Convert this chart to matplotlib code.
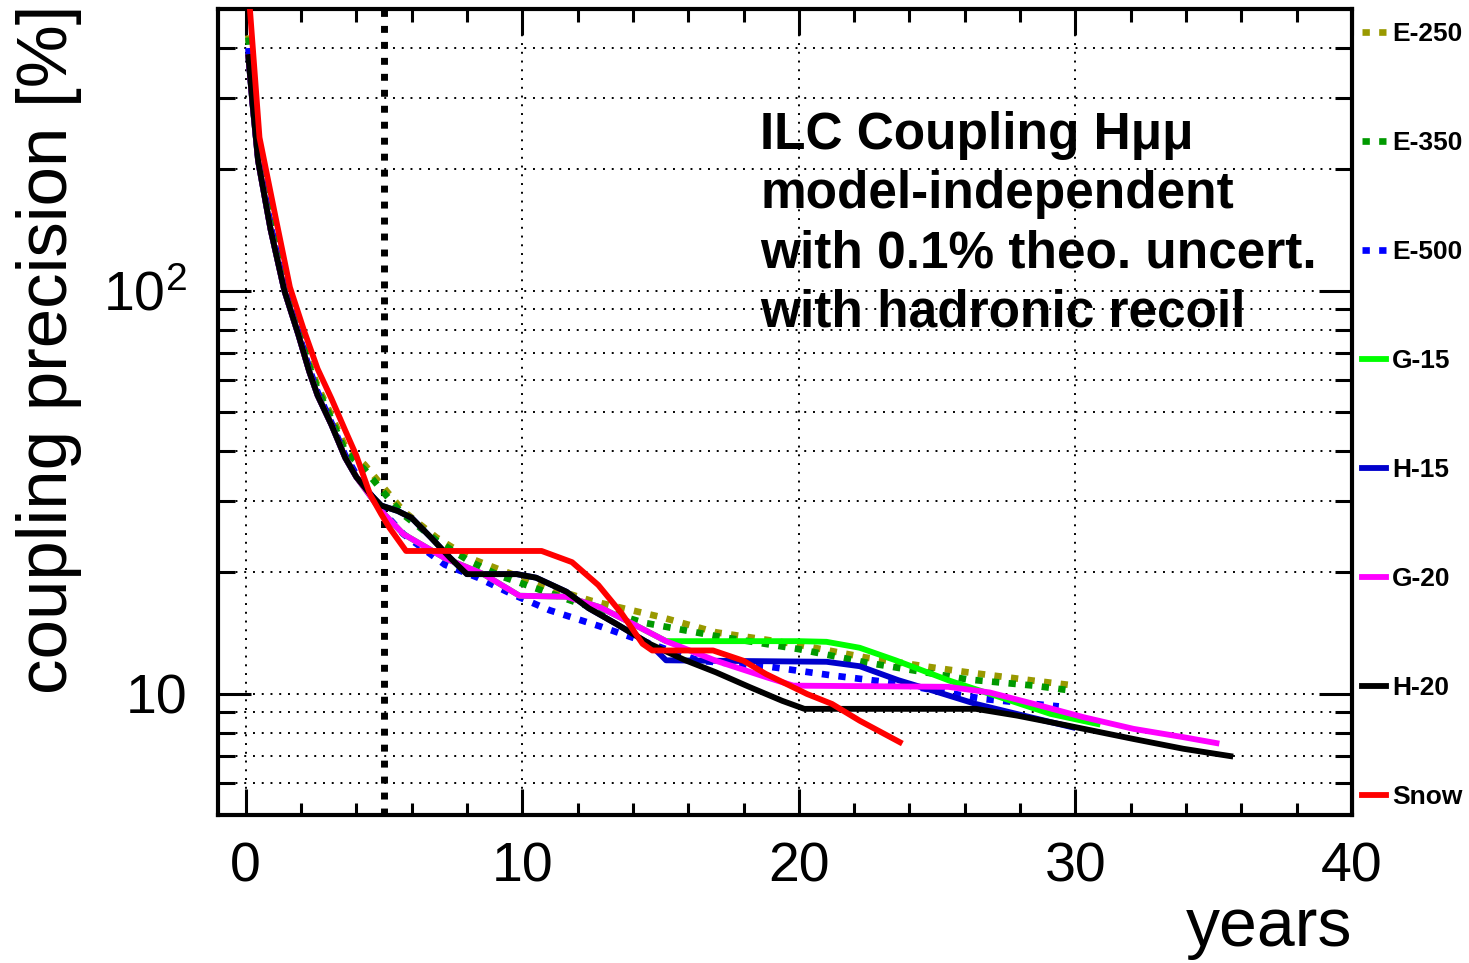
import matplotlib
matplotlib.use("Agg")
import matplotlib.pyplot as plt
from matplotlib.ticker import FixedLocator, NullFormatter, MultipleLocator

plt.rcParams['font.family'] = ['Liberation Sans', 'DejaVu Sans']
plt.rcParams['mathtext.fontset'] = 'custom'
plt.rcParams['mathtext.rm'] = 'Liberation Sans'
plt.rcParams['mathtext.it'] = 'Liberation Sans:italic'

# --- data (years, coupling precision in %) ---
labels = ["E-250", "E-350", "E-500", "G-15", "H-15", "G-20", "H-20", "Snow"]

x_e250 = [0.1, 0.25, 0.45, 0.9, 1.4, 1.9, 2.3, 2.6, 3.1, 3.6, 4.3, 5.0, 5.7, 6.9, 8.1, 9.2,
          11.0, 12.5, 13.8, 15.0, 17.0, 19.8, 22.4, 24.9, 26.1, 28.5, 30.0]
y_e250 = [430, 310, 220, 150, 104, 81, 66, 58, 49, 41, 37, 32.4, 28.4, 24.4, 21.7, 20.3,
          18.3, 17.0, 16.2, 15.5, 14.2, 13.3, 12.3, 11.6, 11.3, 10.77, 10.47]

x_e350 = [0.1, 0.25, 0.45, 0.9, 1.4, 1.9, 2.3, 2.6, 3.1, 3.6, 4.3, 5.0, 5.7, 6.9, 8.1, 9.2,
          12.0, 14.4, 17.0, 20.0, 22.4, 24.9, 26.1, 28.5, 29.9]
y_e350 = [425, 305, 218, 148, 103, 80, 65, 57, 48, 40, 36, 31.5, 27.8, 24.0, 21.3, 19.6,
          16.8, 15.0, 13.9, 12.9, 11.96, 11.2, 10.85, 10.47, 10.17]

x_e500 = [0.1, 0.25, 0.45, 0.9, 1.4, 1.9, 2.3, 2.6, 3.1, 3.6, 4.0, 4.9, 5.7, 7.2, 8.4, 9.6,
          11.0, 12.8, 14.5, 16.4, 18.8, 21.2, 23.6, 25.2, 26.7, 29.4]
y_e500 = [400, 300, 215, 145, 102, 79, 64, 56, 47, 39, 35, 28.6, 24.9, 20.9, 19.4, 17.7,
          16.1, 14.7, 13.4, 12.07, 11.7, 11.1, 10.6, 10.1, 9.7, 9.3]

x_g15 = [0.1, 0.25, 0.45, 0.9, 1.4, 1.9, 2.3, 2.6, 3.1, 3.6, 4.0, 4.9, 5.7, 7.2, 8.6, 9.2,
         9.9, 11.6, 12.8, 14.0, 15.2, 20.0, 21.0, 22.2, 23.5, 25.45, 27.3, 29.1, 30.8]
y_g15 = [380, 290, 210, 142, 100, 78, 63, 55, 46.5, 38.5, 34.5, 28.4, 24.9, 21.7, 19.8, 18.7,
         17.5, 17.4, 16.4, 14.9, 13.5, 13.5, 13.45, 13.0, 12.1, 10.77, 9.79, 8.91, 8.41]

x_h15 = [0.1, 0.25, 0.45, 0.9, 1.4, 1.9, 2.3, 2.6, 3.1, 3.6, 4.0, 4.5, 4.9, 5.5, 6.0, 6.7,
         7.4, 8.0, 9.8, 10.5, 11.6, 12.4, 13.4, 14.6, 15.2, 21.0, 22.2, 23.6, 25.0, 26.4,
         27.9, 29.9]
y_h15 = [380, 290, 210, 142, 100, 78, 63, 55, 46.5, 38.5, 34.5, 31.3, 29.3, 28.4, 27.3, 24.4,
         21.7, 19.8, 19.8, 19.4, 17.9, 16.3, 14.9, 13.3, 12.1, 12.0, 11.7, 10.8, 10.1, 9.43,
         8.9, 8.25]

x_g20 = [0.1, 0.25, 0.45, 0.9, 1.4, 1.9, 2.3, 2.6, 3.1, 3.6, 4.0, 4.9, 5.7, 7.2, 8.6, 9.2,
         9.9, 11.6, 12.8, 14.0, 15.2, 17.0, 18.8, 19.8, 25.4, 26.9, 28.5, 30.3, 32.1, 33.9, 35.1]
y_g20 = [380, 290, 210, 142, 100, 78, 63, 55, 46.5, 38.5, 34.5, 28.4, 24.9, 21.7, 19.8, 18.7,
         17.5, 17.4, 16.4, 14.9, 13.5, 12.07, 11.0, 10.47, 10.4, 10.07, 9.43, 8.74, 8.18, 7.8, 7.54]

x_h20 = [0.1, 0.25, 0.45, 0.9, 1.4, 1.9, 2.3, 2.6, 3.1, 3.6, 4.0, 4.5, 4.9, 5.5, 6.0, 6.7,
         7.4, 8.0, 9.8, 10.5, 11.6, 12.4, 13.4, 14.6, 15.9, 17.0, 18.2, 19.4, 20.2, 26.4,
         27.9, 29.7, 32.1, 33.9, 35.6]
y_h20 = [380, 290, 210, 142, 100, 78, 63, 55, 46.5, 38.5, 34.5, 31.3, 29.3, 28.4, 27.3, 24.4,
         21.7, 19.8, 19.8, 19.4, 17.9, 16.3, 14.9, 13.3, 12.1, 11.3, 10.4, 9.6, 9.17, 9.17,
         8.82, 8.34, 7.72, 7.3, 7.0]

x_snow = [0.1, 0.5, 1.1, 1.6, 2.1, 2.6, 3.1, 3.6, 4.0, 4.5, 4.9, 5.2, 5.8, 10.7, 11.8,
          12.75, 13.6, 14.35, 14.7, 16.9, 18.0, 18.8, 20.3, 21.2, 22.2, 23.65]
y_snow = [560, 240, 150, 102, 80, 64, 54, 45, 39, 31.2, 27.9, 25.8, 22.6, 22.6, 21.2,
          18.6, 15.8, 13.3, 12.8, 12.8, 12.07, 11.2, 9.98, 9.43, 8.57, 7.58]

start_year = 5  # thick dotted vertical marker

series = [
    (x_e250, y_e250, "#999900", True),
    (x_e350, y_e350, "#009900", True),
    (x_e500, y_e500, "#0000ff", True),
    (x_g15, y_g15, "#00ff00", False),
    (x_h15, y_h15, "#0000cc", False),
    (x_g20, y_g20, "#ff00ff", False),
    (x_h20, y_h20, "#000000", False),
    (x_snow, y_snow, "#ff0000", False),
]

fig = plt.figure(figsize=(14.69, 9.63), dpi=100)
ax = fig.add_axes([218 / 1469, 1 - 815 / 963, (1352 - 218) / 1469, (815 - 9) / 963])

ax.set_xlim(-1, 40)
ax.set_yscale('log')
ax.set_ylim(5, 500)

# grid (ROOT style dotted)
ax.grid(True, which='both', axis='y', color='black', linestyle=(0, (1, 3.5)), linewidth=1.4)
ax.grid(True, which='major', axis='x', color='black', linestyle=(0, (1, 3.5)), linewidth=1.4)

for (xs, ys, col, dotted), lab in zip(series, labels):
    if dotted:
        ax.plot(xs, ys, color=col, lw=4.8, linestyle=(0, (1.1, 1.4)),
                dash_capstyle='butt', label=lab, zorder=3)
    else:
        ax.plot(xs, ys, color=col, lw=4.2, solid_joinstyle='round', label=lab, zorder=3)

ax.axvline(start_year, color='black', lw=5, linestyle=(0, (1, 1.3)), zorder=2)

# ticks
ax.xaxis.set_major_locator(MultipleLocator(10))
ax.xaxis.set_minor_locator(MultipleLocator(2))
ax.yaxis.set_major_locator(FixedLocator([10, 100]))
ax.yaxis.set_minor_locator(FixedLocator([6, 7, 8, 9, 20, 30, 40, 50, 60, 70, 80, 90,
                                         200, 300, 400]))
ax.yaxis.set_minor_formatter(NullFormatter())
ax.set_yticklabels(['10', r'$10^{2}$'])
ax.tick_params(axis='both', which='both', direction='in', top=True, right=True,
               width=2.2, labelsize=40)
ax.tick_params(axis='y', which='major', length=24, pad=22)
ax.tick_params(axis='y', which='minor', length=12)
ax.tick_params(axis='x', which='major', length=19, pad=19)
ax.tick_params(axis='x', which='minor', length=9)
for sp in ax.spines.values():
    sp.set_linewidth(3)

ax.set_ylabel('coupling precision [%]', fontsize=51, loc='top')
ax.yaxis.set_label_coords(-0.12, 1.005)
ax.set_xlabel('years', fontsize=49, loc='right', labelpad=2)

ax.text(0.478, 0.873,
        'ILC Coupling H\u03bc\u03bc\nmodel-independent\nwith 0.1% theo. uncert.\nwith hadronic recoil',
        transform=ax.transAxes, fontsize=37, fontweight='bold', va='top', ha='left',
        linespacing=1.26, zorder=4)

fig.legend(loc='upper left', bbox_to_anchor=(1362 / 1469, 1 - 22 / 963), frameon=False,
           prop={'weight': 'bold', 'size': 19}, handlelength=0.9,
           handletextpad=0.25, labelspacing=3.22, borderpad=0, borderaxespad=0)

fig.savefig('out.png', dpi=100)
